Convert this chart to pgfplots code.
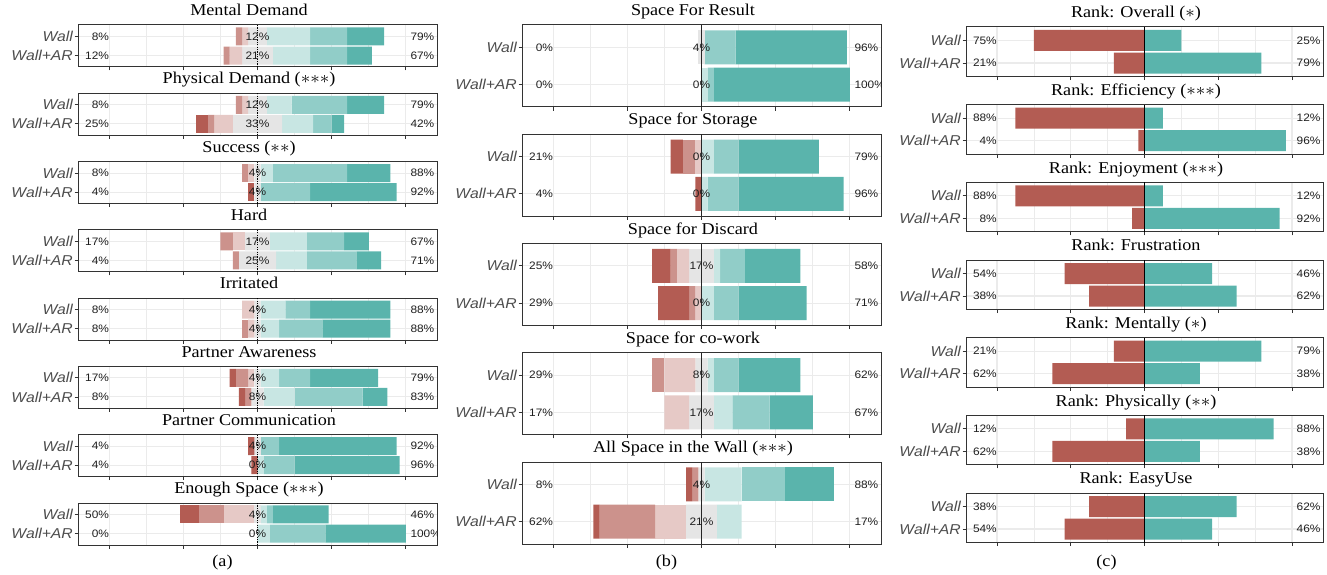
\documentclass[border=0pt]{standalone}
\usepackage{pgfplots}
\pgfplotsset{compat=1.18}
\usepackage{pgfplotstable}
\usepackage{fontspec}
\usepackage{graphicx}
\setmainfont{Liberation Serif}
\newfontfamily\ssf{Liberation Sans}

\definecolor{c1}{HTML}{B35C53}
\definecolor{c2}{HTML}{CC928C}
\definecolor{c3}{HTML}{E6C9C6}
\definecolor{c4}{HTML}{E5E5E5}
\definecolor{c5}{HTML}{C8E6E3}
\definecolor{c6}{HTML}{91CDC8}
\definecolor{c7}{HTML}{5AB4AC}
\definecolor{gridc}{HTML}{EBEBEB}
\definecolor{framec}{HTML}{333333}
\definecolor{ylab}{HTML}{4D4D4D}

\newcommand\sx[1]{\scalebox{1.1}[1]{#1}}
\newcommand\as{\mathord{\ast}}

\tikzset{pl/.style={font=\fontsize{10.8}{12}\ssf, text=black!88, inner sep=0pt}}
\pgfplotsset{
 lk/.style={scale only axis, anchor=north west,
  xmin=-121, xmax=121, ymin=0.4, ymax=2.6,
  xtick={-100,-50,0,50,100}, minor xtick={-75,-25,25,75}, xticklabels={},
  ytick={1,2}, yticklabels={\sx{Wall+AR},\sx{Wall}},
  grid=both, major grid style={gridc, line width=1.1pt}, minor grid style={gridc, line width=0.55pt},
  axis line style={framec, line width=1pt},
  major tick style={framec, line width=0.8pt}, major tick length=3.5pt, minor tick length=0pt,
  tick align=outside, tick pos=left,
  yticklabel style={font=\fontsize{14.3}{16}\ssf\itshape, text=ylab, inner xsep=1.5pt},
  title style={font=\fontsize{16.5}{18}\selectfont, at={(0.5,1)}, anchor=base, yshift=3.3pt, xshift=-8.5pt},
  every axis plot/.append style={draw=none},
 },
 colA/.style={lk, width=359pt, height=42pt, bar width=18pt},
 colB/.style={lk, width=359pt, height=82pt, bar width=34pt},
 colC/.style={lk, width=357pt, height=49.5pt, bar width=21pt},
 ov/.style={hide axis, grid=none},
 stk/.style={xbar stacked, stack negative=on previous},
}

\newcommand\lpanel[4]{%
\begin{axis}[#1, stk, title={\sx{#2}}]
\addplot[fill=none] table[x=off,y=y]{#3};
\addplot[fill=c1] table[x=a1,y=y]{#3};
\addplot[fill=c2] table[x=a2,y=y]{#3};
\addplot[fill=c3] table[x=a3,y=y]{#3};
\addplot[fill=c4] table[x=a4,y=y]{#3};
\addplot[fill=c5] table[x=a5,y=y]{#3};
\addplot[fill=c6] table[x=a6,y=y]{#3};
\addplot[fill=c7] table[x=a7,y=y]{#3};
\end{axis}
\begin{axis}[#1, ov]
#4
\end{axis}}

\newcommand\rpanel[4]{%
\begin{axis}[#1, stk, title={\sx{#2}}]
\addplot[fill=none] table[x=off,y=y]{#3};
\addplot[fill=c1] table[x=lo,y=y]{#3};
\addplot[fill=c7] table[x=hi,y=y]{#3};
\end{axis}
\begin{axis}[#1, ov]
#4
\end{axis}}

\newcommand\labs[6]{%
 \node[pl,anchor=east] at (axis cs:-100,2) {\sx{#1\%}};
 \node[pl] at (axis cs:0,2) {\sx{#2\%}};
 \node[pl,anchor=west] at (axis cs:103,2) {\sx{#3\%}};
 \node[pl,anchor=east] at (axis cs:-100,1) {\sx{#4\%}};
 \node[pl] at (axis cs:0,1) {\sx{#5\%}};
 \node[pl,anchor=west] at (axis cs:103,1) {\sx{#6\%}};}
\newcommand\rlabs[4]{%
 \node[pl,anchor=east] at (axis cs:-100,2) {\sx{#1\%}};
 \node[pl,anchor=west] at (axis cs:103,2) {\sx{#2\%}};
 \node[pl,anchor=east] at (axis cs:-100,1) {\sx{#3\%}};
 \node[pl,anchor=west] at (axis cs:103,1) {\sx{#4\%}};}
\newcommand\cla{\draw[black, line width=1pt, dash pattern=on 1.2pt off 1.2pt] (axis cs:0,0.4) -- (axis cs:0,2.6);}
\newcommand\clb{\draw[black!85, line width=1.2pt] (axis cs:0,0.4) -- (axis cs:0,2.6);}
\newcommand\clc{\draw[black, line width=0.8pt] (axis cs:0,0.4) -- (axis cs:0,2.6);}

% ---- data (percent of 24 participants); off = left end of the bar
\pgfplotstableread{
y off a1 a2 a3 a4 a5 a6 a7
2 -14.58 0 4.17 4.17 12.5 29.17 25 25
1 -22.92 0 4.17 8.33 20.83 25 25 16.67
}\tMD
\pgfplotstableread{
y off a1 a2 a3 a4 a5 a6 a7
2 -14.58 0 4.17 4.17 12.5 16.67 37.5 25
1 -41.67 8.33 4.17 12.5 33.33 20.83 12.5 8.33
}\tPD
\pgfplotstableread{
y off a1 a2 a3 a4 a5 a6 a7
2 -10.42 0 4.17 4.17 4.17 8.33 50 29.17
1 -6.25 4.17 0 0 4.17 0 33.33 58.33
}\tSU
\pgfplotstableread{
y off a1 a2 a3 a4 a5 a6 a7
2 -25 0 8.33 8.33 16.67 25 25 16.67
1 -16.67 0 4.17 0 25 20.83 33.33 16.67
}\tHA
\pgfplotstableread{
y off a1 a2 a3 a4 a5 a6 a7
2 -10.42 0 0 8.33 4.17 16.67 16.67 54.17
1 -10.42 0 4.17 4.17 4.17 12.5 29.17 45.83
}\tIR
\pgfplotstableread{
y off a1 a2 a3 a4 a5 a6 a7
2 -18.75 4.17 8.33 4.17 4.17 12.5 20.83 45.83
1 -12.5 4.17 4.17 0 8.33 20.83 45.83 16.67
}\tPA
\pgfplotstableread{
y off a1 a2 a3 a4 a5 a6 a7
2 -6.25 4.17 0 0 4.17 0 12.5 79.17
1 -4.17 4.17 0 0 0 4.17 20.83 70.83
}\tPC
\pgfplotstableread{
y off a1 a2 a3 a4 a5 a6 a7
2 -52.08 12.5 16.67 20.83 4.17 4.17 4.17 37.5
1 0 0 0 0 0 8.33 37.5 54.17
}\tES
\pgfplotstableread{
y off a1 a2 a3 a4 a5 a6 a7
2 -2.08 0 0 0 4.17 0 20.83 75
1 0 0 0 0 0 4.17 4.17 91.67
}\tSR
\pgfplotstableread{
y off a1 a2 a3 a4 a5 a6 a7
2 -20.83 8.33 8.33 4.17 0 8.33 16.67 54.17
1 -4.17 4.17 0 0 0 4.17 20.83 70.83
}\tSS
\pgfplotstableread{
y off a1 a2 a3 a4 a5 a6 a7
2 -33.33 12.5 4.17 8.33 16.67 4.17 16.67 37.5
1 -29.17 20.83 4.17 4.17 0 8.33 16.67 45.83
}\tSD
\pgfplotstableread{
y off a1 a2 a3 a4 a5 a6 a7
2 -33.33 0 8.33 20.83 8.33 4.17 16.67 41.67
1 -25 0 0 16.67 16.67 12.5 25 29.17
}\tSC
\pgfplotstableread{
y off a1 a2 a3 a4 a5 a6 a7
2 -10.42 4.17 4.17 0 4.17 25 29.17 33.33
1 -72.92 4.17 37.5 20.83 20.83 16.67 0 0
}\tAS
\pgfplotstableread{
y off lo hi
2 -75 75 25
1 -20.83 20.83 79.17
}\tRO
\pgfplotstableread{
y off lo hi
2 -87.5 87.5 12.5
1 -4.17 4.17 95.83
}\tRE
\pgfplotstableread{
y off lo hi
2 -87.5 87.5 12.5
1 -8.33 8.33 91.67
}\tRJ
\pgfplotstableread{
y off lo hi
2 -54.17 54.17 45.83
1 -37.5 37.5 62.5
}\tRF
\pgfplotstableread{
y off lo hi
2 -20.83 20.83 79.17
1 -62.5 62.5 37.5
}\tRM
\pgfplotstableread{
y off lo hi
2 -12.5 12.5 87.5
1 -62.5 62.5 37.5
}\tRP
\pgfplotstableread{
y off lo hi
2 -37.5 37.5 62.5
1 -54.17 54.17 45.83
}\tRU

\begin{document}
\begin{tikzpicture}
\useasboundingbox (0,0) rectangle (1327pt,-575pt);
% ---- column (a)
\lpanel{colA, at={(78pt,-25pt)}}{Mental Demand}{\tMD}{\cla\labs{8}{12}{79}{12}{21}{67}}
\lpanel{colA, at={(78pt,-93.3pt)}}{Physical Demand ($\as\as\as$)}{\tPD}{\cla\labs{8}{12}{79}{25}{33}{42}}
\lpanel{colA, at={(78pt,-161.6pt)}}{Success ($\as\as$)}{\tSU}{\cla\labs{8}{4}{88}{4}{4}{92}}
\lpanel{colA, at={(78pt,-229.9pt)}}{Hard}{\tHA}{\cla\labs{17}{17}{67}{4}{25}{71}}
\lpanel{colA, at={(78pt,-298.1pt)}}{Irritated}{\tIR}{\cla\labs{8}{4}{88}{8}{4}{88}}
\lpanel{colA, at={(78pt,-366.4pt)}}{Partner Awareness}{\tPA}{\cla\labs{17}{4}{79}{8}{8}{83}}
\lpanel{colA, at={(78pt,-434.7pt)}}{Partner Communication}{\tPC}{\cla\labs{4}{4}{92}{4}{0}{96}}
\lpanel{colA, at={(78pt,-503pt)}}{Enough Space ($\as\as\as$)}{\tES}{\cla\labs{50}{4}{46}{0}{0}{100}}
% ---- column (b)
\lpanel{colB, at={(522pt,-25pt)}}{Space For Result}{\tSR}{\clb\labs{0}{4}{96}{0}{0}{100}}
\lpanel{colB, at={(522pt,-134.25pt)}}{Space for Storage}{\tSS}{\clb\labs{21}{0}{79}{4}{0}{96}}
\lpanel{colB, at={(522pt,-243.5pt)}}{Space for Discard}{\tSD}{\clb\labs{25}{17}{58}{29}{0}{71}}
\lpanel{colB, at={(522pt,-352.75pt)}}{Space for co-work}{\tSC}{\clb\labs{29}{8}{62}{17}{17}{67}}
\lpanel{colB, at={(522pt,-462pt)}}{All Space in the Wall ($\as\as\as$)}{\tAS}{\clb\labs{8}{4}{88}{62}{21}{17}}
% ---- column (c)
\rpanel{colC, at={(966pt,-27pt)}}{Rank: Overall ($\as$)}{\tRO}{\clc\rlabs{75}{25}{21}{79}}
\rpanel{colC, at={(966pt,-104.7pt)}}{Rank: Efficiency ($\as\as\as$)}{\tRE}{\clc\rlabs{88}{12}{4}{96}}
\rpanel{colC, at={(966pt,-182.3pt)}}{Rank: Enjoyment ($\as\as\as$)}{\tRJ}{\clc\rlabs{88}{12}{8}{92}}
\rpanel{colC, at={(966pt,-260pt)}}{Rank: Frustration}{\tRF}{\clc\rlabs{54}{46}{38}{62}}
\rpanel{colC, at={(966pt,-337.7pt)}}{Rank: Mentally ($\as$)}{\tRM}{\clc\rlabs{21}{79}{62}{38}}
\rpanel{colC, at={(966pt,-415.3pt)}}{Rank: Physically ($\as\as$)}{\tRP}{\clc\rlabs{12}{88}{62}{38}}
\rpanel{colC, at={(966pt,-493pt)}}{Rank: EasyUse}{\tRU}{\clc\rlabs{38}{62}{54}{46}}
% ---- sub-captions
\node[font=\fontsize{16.5}{18}\selectfont, anchor=base] at (222.5pt,-566pt) {\sx{(a)}};
\node[font=\fontsize{16.5}{18}\selectfont, anchor=base] at (666.5pt,-566pt) {\sx{(b)}};
\node[font=\fontsize{16.5}{18}\selectfont, anchor=base] at (1106.5pt,-566pt) {\sx{(c)}};
\end{tikzpicture}
\end{document}
